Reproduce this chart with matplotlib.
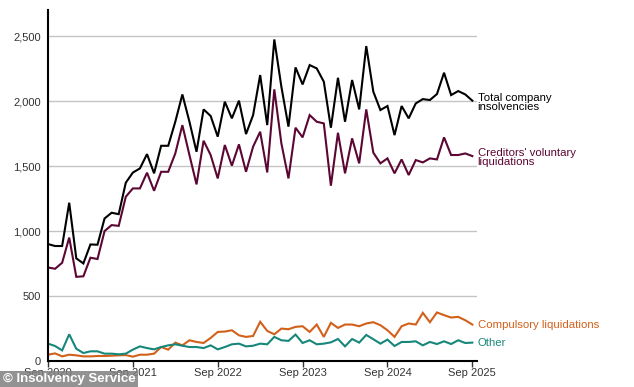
import matplotlib.pyplot as plt

plt.rcParams['font.family'] = ['Liberation Sans', 'DejaVu Sans']

# monthly figures, Sep 2020 .. Sep 2025
total = [900, 885, 885, 1218, 790, 751, 897, 895, 1097, 1141, 1130, 1372, 1450,
         1482, 1592, 1444, 1656, 1656, 1841, 2051, 1841, 1610, 1936, 1885, 1726,
         1995, 1867, 2003, 1746, 1892, 2200, 1815, 2474, 2110, 1803, 2259, 2128,
         2277, 2251, 2149, 1795, 2179, 1841, 2162, 1936, 2423, 2072, 1931, 1962,
         1738, 1962, 1867, 1982, 2015, 2008, 2054, 2218, 2046, 2077, 2051, 2003]
cvl = [720, 710, 756, 950, 648, 652, 795, 785, 1000, 1046, 1040, 1264, 1328,
       1328, 1449, 1310, 1456, 1456, 1597, 1815, 1585, 1359, 1695, 1585, 1405,
       1662, 1503, 1667, 1456, 1649, 1764, 1451, 2090, 1674, 1405, 1795, 1721,
       1892, 1841, 1828, 1349, 1756, 1444, 1713, 1521, 1936, 1603, 1521, 1559,
       1444, 1551, 1431, 1546, 1528, 1559, 1551, 1721, 1585, 1585, 1597, 1577]
compulsory = [49, 59, 36, 49, 44, 36, 36, 39, 39, 41, 44, 46, 34, 49, 49, 57,
              108, 88, 142, 121, 160, 147, 139, 178, 224, 227, 237, 198, 186,
              193, 302, 232, 206, 250, 245, 263, 268, 224, 281, 186, 294, 255,
              281, 281, 268, 289, 299, 276, 237, 186, 268, 289, 281, 371, 299,
              374, 353, 335, 340, 314, 281]
other = [134, 116, 82, 206, 95, 62, 75, 75, 57, 57, 52, 57, 88, 113, 100, 90,
         108, 121, 129, 118, 108, 108, 100, 121, 90, 108, 129, 134, 113, 118,
         134, 129, 186, 160, 155, 204, 139, 160, 129, 134, 144, 170, 113, 170,
         142, 201, 168, 134, 165, 116, 147, 147, 152, 121, 147, 131, 152, 131,
         160, 139, 142]

tick_pos = [0, 12, 24, 36, 48, 60]
tick_labels = ['Sep 2020', 'Sep 2021', 'Sep 2022', 'Sep 2023', 'Sep 2024', 'Sep 2025']

series = [
    (total, '#000000', 'Total company\ninsolvencies', 1990),
    (cvl, '#5c0633', "Creditors' voluntary\nliquidations", 1565),
    (compulsory, '#d2601a', 'Compulsory liquidations', 277),
    (other, '#16877a', 'Other', 141),
]

fig = plt.figure(figsize=(6.34, 3.87), dpi=100)
ax = fig.add_axes([0.0757, 0.067, 0.676, 0.907])

months = list(range(len(total)))
for vals, col, lab, ly in series:
    ax.plot(months, vals, color=col, lw=1.5, solid_joinstyle='miter')
    ax.text(60.75, ly, lab, color=col, fontsize=8.2, va='center', ha='left',
            linespacing=0.8, clip_on=False)

ax.set_xlim(0, 60.6)
ax.set_ylim(0, 2700)
ax.set_yticks([0, 500, 1000, 1500, 2000, 2500])
ax.set_yticklabels(['0', '500', '1,000', '1,500', '2,000', '2,500'])
ax.set_xticks(tick_pos)
ax.set_xticklabels(tick_labels)
ax.tick_params(axis='y', length=0, labelsize=8, pad=5, colors='#333333')
ax.tick_params(axis='x', length=4, width=1, labelsize=8, pad=1, colors='#333333')
ax.yaxis.grid(True, color='#c4c4c4', lw=1)
ax.set_axisbelow(True)
for s in ['top', 'right']:
    ax.spines[s].set_visible(False)
for s in ['left', 'bottom']:
    ax.spines[s].set_linewidth(1.5)

# watermark box sits over the first tick label, as in the source
fig.text(0.004, 0.004, '\u00a9 Insolvency Service', color='white', fontsize=9.5,
         fontweight='bold', ha='left', va='bottom',
         bbox=dict(facecolor='#7f7f7f', edgecolor='none', alpha=0.85, pad=2.0))

fig.savefig('out.png', dpi=100)
